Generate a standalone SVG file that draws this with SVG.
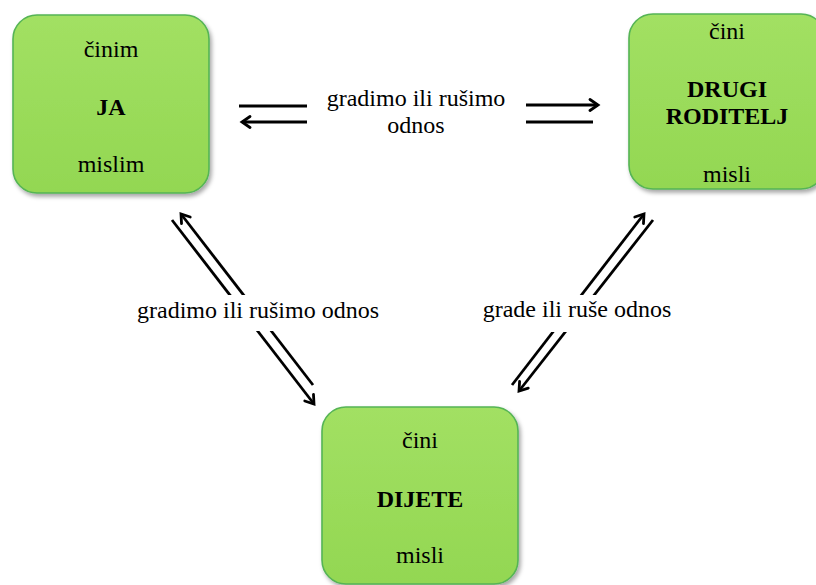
<svg xmlns="http://www.w3.org/2000/svg" width="816" height="585" viewBox="0 0 816 585">
  <defs>
    <linearGradient id="g" x1="0" y1="0" x2="0" y2="1">
      <stop offset="0" stop-color="#a2e063"/>
      <stop offset="1" stop-color="#93d752"/>
    </linearGradient>
    <filter id="sh" x="-10%" y="-10%" width="125%" height="125%">
      <feDropShadow dx="2" dy="3" stdDeviation="2" flood-color="#000" flood-opacity="0.35"/>
    </filter>
    <marker id="ah" viewBox="0 0 14 14" refX="11" refY="7" markerWidth="14" markerHeight="14" markerUnits="userSpaceOnUse" orient="auto">
      <path d="M3,1.5 L11,7 L3,12.5" fill="none" stroke="#000" stroke-width="2.8" stroke-linecap="round" stroke-linejoin="miter"/>
    </marker>
    <style>
      .box { fill: url(#g); stroke: #55b455; stroke-width: 1.6; filter: url(#sh); }
      .t { font-family: "Liberation Serif", "Times New Roman", serif; font-size: 24px; fill: #000; text-anchor: middle; }
      .b { font-weight: bold; }
      .ln { stroke: #000; stroke-width: 2.8; fill: none; }
      .arr { marker-end: url(#ah); }
      .bg { fill: #fff; }
    </style>
  </defs>

  <g id="connectors">
    <line class="ln" x1="307" y1="106" x2="239" y2="106"/>
    <line class="ln arr" x1="307" y1="122" x2="242" y2="122"/>
    <line class="ln arr" x1="526" y1="105" x2="598" y2="105"/>
    <line class="ln" x1="526" y1="122" x2="593" y2="122"/>
    <line class="ln arr" x1="172" y1="220" x2="314" y2="404"/>
    <line class="ln arr" x1="313" y1="385" x2="181" y2="214"/>
    <line class="ln arr" x1="512" y1="385" x2="644" y2="214"/>
    <line class="ln arr" x1="653" y1="220" x2="519" y2="391"/>
    <rect class="bg" x="132" y="295" width="254" height="36"/>
    <rect class="bg" x="478" y="295" width="198" height="37"/>
    <text class="t" x="416" y="106">gradimo ili rušimo</text>
    <text class="t" x="416" y="133">odnos</text>
    <text class="t" x="258" y="318">gradimo ili rušimo odnos</text>
    <text class="t" x="577" y="317">grade ili ruše odnos</text>
  </g>

  <g id="ja">
    <rect class="box" x="13" y="15" width="196" height="178" rx="24" ry="24"/>
    <text class="t" x="111" y="57">činim</text>
    <text class="t b" x="111" y="115">JA</text>
    <text class="t" x="111" y="172">mislim</text>
  </g>

  <g id="drugi-roditelj">
    <rect class="box" x="629" y="14" width="196" height="175" rx="24" ry="24"/>
    <text class="t" x="727" y="39">čini</text>
    <text class="t b" x="727" y="97">DRUGI</text>
    <text class="t b" x="727" y="124">RODITELJ</text>
    <text class="t" x="727" y="182">misli</text>
  </g>

  <g id="dijete">
    <rect class="box" x="322" y="407" width="196" height="177" rx="24" ry="24"/>
    <text class="t" x="420" y="448">čini</text>
    <text class="t b" x="420" y="507">DIJETE</text>
    <text class="t" x="420" y="563">misli</text>
  </g>
</svg>
